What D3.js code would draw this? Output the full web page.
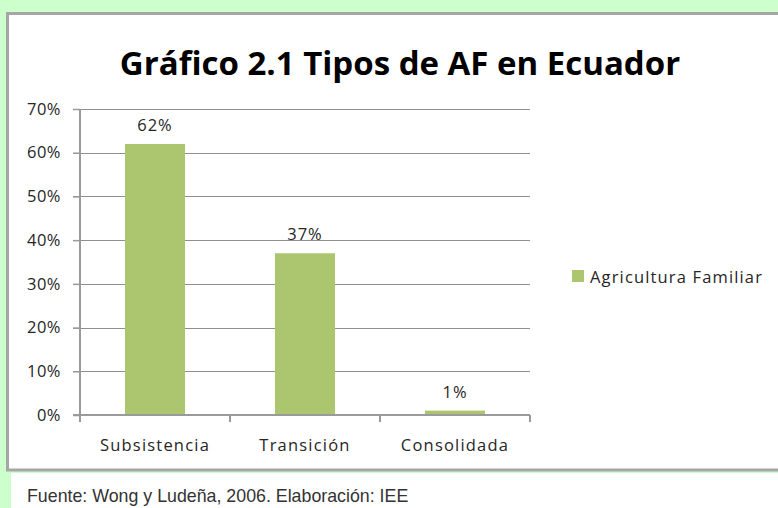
<!DOCTYPE html>
<html>
<head>
<meta charset="utf-8">
<script src="https://cdn.jsdelivr.net/npm/d3@7"></script>
<style>
  html, body { margin: 0; padding: 0; background: #ccffcc; }
  svg { display: block; }
</style>
</head>
<body>
<svg id="chart" width="778" height="508"></svg>
<script>
const categories = ["Subsistencia", "Transición", "Consolidada"];
const values = [0.62, 0.37, 0.01];
const valueLabels = ["62%", "37%", "1%"];
const yTicks = [0, 0.1, 0.2, 0.3, 0.4, 0.5, 0.6, 0.7];
const seriesName = "Agricultura Familiar";
const title = "Gráfico 2.1 Tipos de AF en Ecuador";
const source = "Fuente: Wong y Ludeña, 2006. Elaboración: IEE";

const svg = d3.select("#chart");
const W = 778, H = 508;
const barColor = "#abc66e";
const font = "'Open Sans', sans-serif";

// background
svg.append("rect").attr("x", 0).attr("y", 0).attr("width", W).attr("height", H).attr("fill", "#ccffcc");
// white footer area
svg.append("rect").attr("x", 11).attr("y", 473).attr("width", W - 11).attr("height", H - 473).attr("fill", "#ffffff");
// chart box
svg.append("rect").attr("x", 7.5).attr("y", 13.5).attr("width", W).attr("height", 456.5)
  .attr("fill", "#ffffff").attr("stroke", "#a6a6a6").attr("stroke-width", 3);

// title
svg.append("text").attr("x", 400).attr("y", 75).attr("text-anchor", "middle")
  .attr("font-family", font).attr("font-weight", "bold").attr("font-size", 33)
  .attr("fill", "#000").text(title);

const xb = d3.scaleBand().domain(categories).range([80, 530]);
const y = d3.scaleLinear().domain([0, 0.7]).range([415, 109]);

// gridlines
svg.append("g").selectAll("line").data(yTicks.slice(1)).join("line")
  .attr("x1", 73).attr("x2", 530)
  .attr("y1", d => Math.round(y(d)) + 0.5).attr("y2", d => Math.round(y(d)) + 0.5)
  .attr("stroke", "#8f8f8f").attr("stroke-width", 1.2);

// y axis
const yAxis = d3.axisLeft(y).tickValues(yTicks).tickFormat(d3.format(".0%")).tickSize(7).tickPadding(12);
const gy = svg.append("g").attr("transform", "translate(80,0)").call(yAxis);
gy.select(".domain").attr("stroke", "#9a9a9a").attr("stroke-width", 2).attr("d", "M0,415V109");
gy.selectAll(".tick line").attr("stroke", "#9a9a9a").attr("stroke-width", 1.5);
gy.selectAll(".tick text").attr("font-family", font).attr("font-size", 16.5)
  .attr("letter-spacing", 0.5).attr("fill", "#262626");

// bars
svg.append("g").selectAll("rect").data(values).join("rect")
  .attr("x", (d, i) => xb(categories[i]) + xb.bandwidth() / 2 - 30)
  .attr("width", 60)
  .attr("y", d => y(d))
  .attr("height", d => y(0) - y(d))
  .attr("fill", barColor);

// x axis
const gx = svg.append("g").attr("transform", "translate(0,415)");
gx.append("line").attr("x1", 73).attr("x2", 530).attr("y1", 0).attr("y2", 0)
  .attr("stroke", "#9a9a9a").attr("stroke-width", 2);
const bounds = [80].concat(categories.map(c => xb(c) + xb.bandwidth()));
gx.selectAll("line.tk").data(bounds).join("line").attr("class", "tk")
  .attr("x1", d => d).attr("x2", d => d).attr("y1", 0).attr("y2", 7)
  .attr("stroke", "#9a9a9a").attr("stroke-width", 2);
gx.selectAll("text").data(categories).join("text")
  .attr("x", d => xb(d) + xb.bandwidth() / 2).attr("y", 36)
  .attr("text-anchor", "middle").attr("font-family", font).attr("font-size", 16.5)
  .attr("letter-spacing", 1.2).attr("fill", "#262626").text(d => d);

// value labels
svg.append("g").selectAll("text").data(values).join("text")
  .attr("x", (d, i) => xb(categories[i]) + xb.bandwidth() / 2)
  .attr("y", d => y(d) - 13)
  .attr("text-anchor", "middle").attr("font-family", font).attr("font-size", 16.5)
  .attr("letter-spacing", 1).attr("fill", "#262626").text((d, i) => valueLabels[i]);

// legend
const lg = svg.append("g").attr("transform", "translate(572,270)");
lg.append("rect").attr("x", 0).attr("y", 0).attr("width", 12).attr("height", 12).attr("fill", barColor);
lg.append("text").attr("x", 18).attr("y", 13).attr("font-family", font).attr("font-size", 16.5)
  .attr("letter-spacing", 1.15).attr("fill", "#262626").text(seriesName);

// source
svg.append("text").attr("x", 27).attr("y", 502).attr("font-family", "'Liberation Sans', Arial, sans-serif")
  .attr("font-size", 17.8).attr("fill", "#333").text(source);
</script>
</body>
</html>
